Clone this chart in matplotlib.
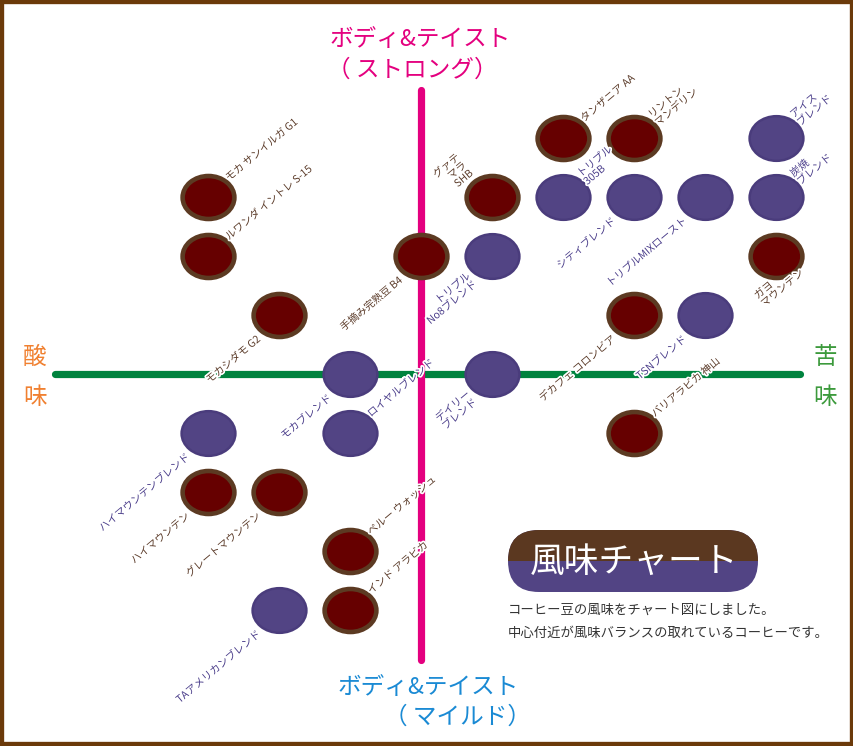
import matplotlib.pyplot as plt
import matplotlib.patheffects as pe
from matplotlib.path import Path
from matplotlib.patches import FancyBboxPatch, Rectangle
from matplotlib.transforms import offset_copy

plt.rcParams['font.family'] = ['Noto Sans CJK JP', 'DejaVu Sans']

# 酸味(-) ↔ 苦味(+), マイルド(-) ↔ ストロング(+)
names = ['タンザニア AA', 'リントン\nマンデリン', 'アイス\nブレンド',
         'モカ サンイルガ G1', 'グァテ\nマラ\nSHB', 'トリプル\n305B', 'シティブレンド',
         'トリプルMIXロースト', '炭焼\nブレンド',
         'ルワンダ イントレ S-15', '手摘み完熟豆 B4', 'トリプル\nNo8ブレンド', 'ガヨ\nマウンテン',
         'モカシダモ G2', 'デカフェ コロンビア', 'TSNブレンド',
         'モカブレンド', 'デイリー\nブレンド',
         'ハイマウンテンブレンド', 'ロイヤルブレンド', 'バリアラビカ 神山',
         'ハイマウンテン', 'グレートマウンテン',
         'ペルー ウォッシュ',
         'TAアメリカンブレンド', 'インド アラビカ']
bitter = [2, 3, 5,
          -3, 1, 2, 3, 4, 5,
          -3, 0, 1, 5,
          -2, 3, 4,
          -1, 1,
          -3, -1, 3,
          -3, -2,
          -1,
          -2, -1]
body = [4, 4, 4,
        3, 3, 3, 3, 3, 3,
        2, 2, 2, 2,
        1, 1, 1,
        0, 0,
        -1, -1, -1,
        -2, -2,
        -3,
        -4, -4]
blend = [False, False, True,
         False, False, True, True, True, True,
         False, False, True, False,
         False, False, True,
         True, True,
         True, True, False,
         False, False,
         False,
         True, False]
side = ['ur', 'ur', 'ur',
        'ur', 'ul', 'ur', 'll', 'll', 'ur',
        'ur', 'll', 'll', 'b',
        'll', 'll', 'll',
        'll', 'll',
        'll', 'ur', 'ur',
        'll', 'll',
        'ur',
        'll', 'ur']

BROWN = '#5c3a22'
DARK = '#660000'
PURPLE = '#524484'

fig = plt.figure(figsize=(8.54, 7.46), dpi=100)
ax = fig.add_axes([0, 0, 1, 1])
ax.set_xlim(-421 / 71, 433 / 71)
ax.set_ylim(-372 / 59, 374 / 59)
ax.axis('off')

# axes
ax.plot([-5.15, 5.34], [0, 0], color='#00833e', lw=5.2, solid_capstyle='round', zorder=1)
ax.plot([0, 0], [-4.85, 4.81], color='#e4007f', lw=5.2, solid_capstyle='round', zorder=1)

circ = Path.unit_circle()
ellipse = Path(circ.vertices * [1, 0.83], circ.codes)

sx = [b for b, f in zip(bitter, blend) if not f]
sy = [b for b, f in zip(body, blend) if not f]
bx = [b for b, f in zip(bitter, blend) if f]
by = [b for b, f in zip(body, blend) if f]
ax.scatter(sx, sy, s=1390, marker=ellipse, c=DARK, edgecolors=BROWN, linewidths=3.3, zorder=3)
ax.scatter(bx, by, s=1500, marker=ellipse, c=PURPLE, edgecolors='#4a3c7c', linewidths=1.8, zorder=3)

# label placement (pixel offsets from centre, screen y down)
place = {'ur': (19, -18, 'left'), 'll': (-20, 23, 'right'),
         'ul': (-27, -33, 'right'), 'b': (-17, 45, 'left')}
halo = [pe.withStroke(linewidth=2.5, foreground='white')]
for x, y, n, f, s in zip(bitter, body, names, blend, side):
    dx, dy, ha = place[s]
    tr = offset_copy(ax.transData, fig=fig, x=dx, y=-dy, units='dots')
    ax.text(x, y, n, transform=tr, rotation=40, rotation_mode='anchor',
            ha=ha, va='center', multialignment=ha, fontsize=7.5,
            linespacing=1.05, color='#4a3d8a' if f else '#5a3a28',
            path_effects=halo, zorder=4)

# axis titles
fig.text(420 / 854, 1 - 40 / 746, 'ボディ&テイスト', color='#e4007f', fontsize=17,
         ha='center', va='center')
fig.text(412 / 854, 1 - 70 / 746, '（ ストロング）', color='#e4007f', fontsize=17,
         ha='center', va='center')
fig.text(428 / 854, 1 - 687 / 746, 'ボディ&テイスト', color='#1a8ad4', fontsize=17,
         ha='center', va='center')
fig.text(458 / 854, 1 - 717 / 746, '（ マイルド）', color='#1a8ad4', fontsize=17,
         ha='center', va='center')
for ch, yy in [('酸', 357), ('味', 397)]:
    fig.text(35 / 854, 1 - yy / 746, ch, color='#f08030', fontsize=17, ha='center', va='center')
for ch, yy in [('苦', 357), ('味', 397)]:
    fig.text(825 / 854, 1 - yy / 746, ch, color='#3c9a3c', fontsize=17, ha='center', va='center')

# title pill
pax = fig.add_axes([508 / 854, 1 - 592 / 746, 250 / 854, 62 / 746])
pax.set_xlim(0, 250)
pax.set_ylim(0, 62)
pax.axis('off')
pax.add_patch(FancyBboxPatch((0, 0), 250, 62, boxstyle='round,pad=0,rounding_size=31',
                             fc=PURPLE, ec='none'))
top = FancyBboxPatch((0, 0), 250, 62, boxstyle='round,pad=0,rounding_size=31',
                     fc='#5b3820', ec='none')
pax.add_patch(top)
top.set_clip_path(Rectangle((0, 31), 250, 31, transform=pax.transData))
pax.text(126, 30, '風味チャート', color='white', fontsize=25, ha='center', va='center')

fig.text(508 / 854, 1 - 610 / 746, 'コーヒー豆の風味をチャート図にしました。',
         color='#333333', fontsize=9.6, va='center')
fig.text(508 / 854, 1 - 633 / 746, '中心付近が風味バランスの取れているコーヒーです。',
         color='#333333', fontsize=9.6, va='center')

fig.patches.append(Rectangle((0, 0), 1, 1, transform=fig.transFigure, fill=False,
                             ec='#6b3a0a', lw=6))

fig.savefig('out.png', dpi=100)
